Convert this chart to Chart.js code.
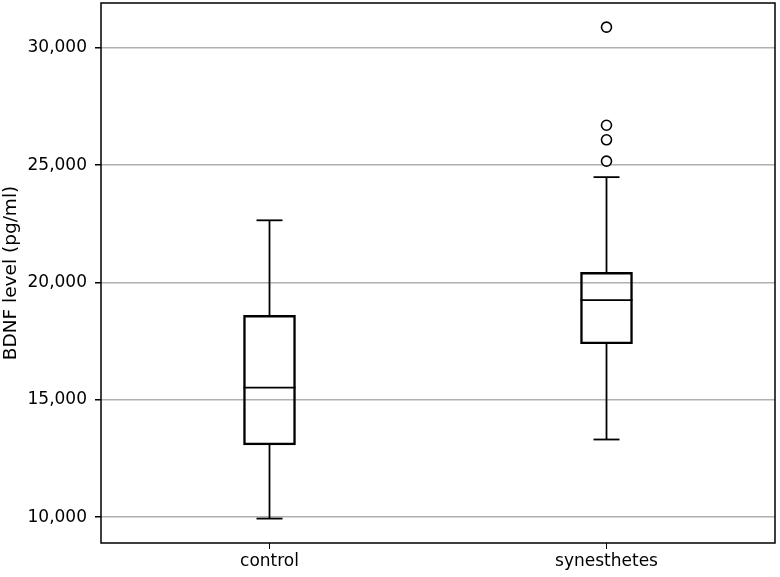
<!DOCTYPE html>
<html lang="en">
	<head>
		<meta charset="UTF-8" />
		<script src="https://cdn.jsdelivr.net/npm/chart.js@4"></script>
		<style>
			body { margin: 0; background: #fff; }
			#wrap { width: 780px; height: 577px; }
		</style>
	</head>

	<body>
		<div id="wrap"><canvas id="myChart" width="780" height="577"></canvas></div>

		<script>
			// box plot summary
			const groups = ['control', 'synesthetes'];
			const whiskLow = [9940, 13310];
			const q1 = [13080, 17390];
			const median = [15520, 19250];
			const q3 = [18600, 20430];
			const whiskHigh = [22650, 24490];
			const outliers = [[], [25170, 26080, 26700, 30880]];
			const yTicks = [10000, 15000, 20000, 25000, 30000];

			const outlierPoints = [];
			outliers.forEach((list, i) => {
				list.forEach((v) => outlierPoints.push({ x: groups[i], y: v }));
			});

			// whiskers, caps, medians and the frame
			const boxExtras = {
				id: 'boxExtras',
				afterDatasetsDraw(chart) {
					const ctx = chart.ctx;
					const xs = chart.scales.x;
					const ys = chart.scales.y;
					const bars = chart.getDatasetMeta(0).data;
					ctx.save();
					ctx.strokeStyle = '#000';
					ctx.lineWidth = 1.8;
					groups.forEach((g, i) => {
						const cx = xs.getPixelForValue(i);
						const half = bars[i].width / 2;
						const cap = half / 2;
						const line = (x1, y1, x2, y2) => {
							ctx.beginPath();
							ctx.moveTo(x1, y1);
							ctx.lineTo(x2, y2);
							ctx.stroke();
						};
						line(cx, ys.getPixelForValue(q3[i]), cx, ys.getPixelForValue(whiskHigh[i]));
						line(cx, ys.getPixelForValue(q1[i]), cx, ys.getPixelForValue(whiskLow[i]));
						line(cx - cap, ys.getPixelForValue(whiskHigh[i]), cx + cap, ys.getPixelForValue(whiskHigh[i]));
						line(cx - cap, ys.getPixelForValue(whiskLow[i]), cx + cap, ys.getPixelForValue(whiskLow[i]));
						line(cx - half, ys.getPixelForValue(median[i]), cx + half, ys.getPixelForValue(median[i]));
					});
					const a = chart.chartArea;
					ctx.lineWidth = 1.5;
					ctx.strokeRect(a.left, a.top, a.right - a.left, a.bottom - a.top);
					ctx.restore();
				},
			};

			const ctx = document.getElementById('myChart').getContext('2d');
			const myChart = new Chart(ctx, {
				type: 'bar',
				data: {
					labels: groups,
					datasets: [
						{
							label: 'box',
							data: groups.map((g, i) => [q1[i], q3[i]]),
							backgroundColor: 'rgba(0,0,0,0)',
							borderColor: '#000',
							borderWidth: 1.8,
							borderSkipped: false,
							barThickness: 52,
						},
						{
							type: 'line',
							label: 'outliers',
							data: outlierPoints,
							showLine: false,
							pointRadius: 5,
							pointBorderWidth: 1.6,
							pointBackgroundColor: '#fff',
							pointBorderColor: '#000',
						},
					],
				},
				options: {
					responsive: false,
					animation: false,
					layout: { autoPadding: false, padding: { top: 3, right: 5, left: 0, bottom: 0 } },
					plugins: { legend: { display: false }, tooltip: { enabled: false } },
					scales: {
						x: {
							offset: true,
							afterFit: (s) => { s.height = 34; s.paddingLeft = 0; s.paddingRight = 0; },
							grid: { offset: false, drawOnChartArea: false, tickLength: 6, tickColor: '#000' },
							border: { display: false },
							ticks: { color: '#000', padding: 2, font: { family: 'DejaVu Sans', size: 17 } },
						},
						y: {
							min: 8900,
							max: 31910,
							afterFit: (s) => { s.width = 101; s.paddingTop = 0; s.paddingBottom = 0; },
							afterBuildTicks: (s) => { s.ticks = yTicks.map((v) => ({ value: v })); },
							grid: { color: '#b0b0b0', lineWidth: 1.5, tickLength: 6, tickColor: '#000' },
							border: { display: false },
							ticks: {
								color: '#000',
								padding: 8,
								font: { family: 'DejaVu Sans', size: 17 },
								callback: (v) => v.toLocaleString('en-US'),
							},
							title: {
								display: true,
								text: 'BDNF level (pg/ml)',
								color: '#000',
								padding: { top: 0, bottom: 0 },
								font: { family: 'DejaVu Sans', size: 18.5 },
							},
						},
					},
				},
				plugins: [boxExtras],
			});
		</script>
	</body>
</html>
